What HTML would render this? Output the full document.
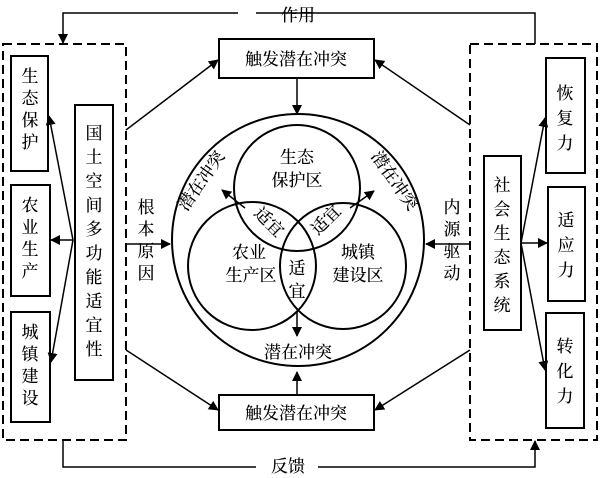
<!DOCTYPE html>
<html><head><meta charset="utf-8"><style>
html,body{margin:0;padding:0;background:#fff;width:600px;height:478px;overflow:hidden}
svg{display:block}
text{font-family:"Liberation Serif","Noto Serif CJK SC","Noto Sans CJK SC",serif;font-size:17px;fill:#000;font-weight:500}
</style></head><body>
<svg width="600" height="478" viewBox="0 0 600 478" xmlns="http://www.w3.org/2000/svg">
<defs><marker id="a" markerWidth="10" markerHeight="10" refX="9" refY="5" orient="auto" markerUnits="userSpaceOnUse"><path d="M0,0 L10,5 L0,10 z" fill="#000"/></marker></defs>
<g fill="none" stroke="#000" stroke-width="2">
<rect x="3" y="44" width="123" height="396" stroke-dasharray="9,5"/>
<rect x="470" y="44" width="127" height="396" stroke-dasharray="9,5"/>
<rect x="219" y="39" width="155" height="39"/>
<rect x="219" y="395" width="155" height="35"/>
<rect x="11" y="56" width="37" height="115"/>
<rect x="11" y="185" width="39" height="111"/>
<rect x="11" y="312" width="39" height="110"/>
<rect x="75" y="105" width="38" height="275"/>
<rect x="484" y="156" width="37" height="174"/>
<rect x="546" y="58" width="39" height="115"/>
<rect x="548" y="187" width="37" height="114"/>
<rect x="546" y="313" width="38" height="115"/>
<circle cx="298" cy="240" r="126"/>
<circle cx="297" cy="188" r="63"/>
<circle cx="252" cy="266" r="64"/>
<circle cx="343" cy="266" r="63"/>
<polyline points="256,13 535,13 535,44" stroke-width="1.5"/>
<polyline points="238,13 63,13 63,43" stroke-width="1.5" marker-end="url(#a)"/>
<polyline points="63,440 63,467 256,467" stroke-width="1.5"/>
<polyline points="318,467 535,467 535,441" stroke-width="1.5" marker-end="url(#a)"/>
<line x1="126" y1="130" x2="218" y2="60" marker-end="url(#a)" stroke-width="1.5"/>
<line x1="470" y1="125" x2="375" y2="60" marker-end="url(#a)" stroke-width="1.5"/>
<line x1="126" y1="350" x2="218" y2="410" marker-end="url(#a)" stroke-width="1.5"/>
<line x1="470" y1="350" x2="375" y2="410" marker-end="url(#a)" stroke-width="1.5"/>
<line x1="297" y1="78" x2="297" y2="114" marker-end="url(#a)" stroke-width="1.5"/>
<line x1="297" y1="395" x2="297" y2="372" marker-end="url(#a)" stroke-width="1.5"/>
<line x1="126" y1="244" x2="170" y2="244" marker-end="url(#a)" stroke-width="1.5"/>
<line x1="470" y1="244" x2="426" y2="244" marker-end="url(#a)" stroke-width="1.5"/>
<line x1="73" y1="240" x2="49" y2="116" marker-end="url(#a)" stroke-width="1.5"/>
<line x1="73" y1="240" x2="51" y2="240" marker-end="url(#a)" stroke-width="1.5"/>
<line x1="73" y1="240" x2="51" y2="362" marker-end="url(#a)" stroke-width="1.5"/>
<line x1="521" y1="243" x2="545" y2="118" marker-end="url(#a)" stroke-width="1.5"/>
<line x1="521" y1="243" x2="547" y2="243" marker-end="url(#a)" stroke-width="1.5"/>
<line x1="521" y1="243" x2="545" y2="370" marker-end="url(#a)" stroke-width="1.5"/>
<line x1="245" y1="208" x2="222" y2="190" marker-end="url(#a)" stroke-width="1.5"/>
<line x1="350" y1="208" x2="374" y2="191" marker-end="url(#a)" stroke-width="1.5"/>
<line x1="297" y1="311" x2="297" y2="336" marker-end="url(#a)" stroke-width="1.5"/>
</g>
<text x="298" y="21" text-anchor="middle">作用</text>
<text x="288" y="472" text-anchor="middle">反馈</text>
<text x="296" y="65" text-anchor="middle">触发潜在冲突</text>
<text x="296" y="419" text-anchor="middle">触发潜在冲突</text>
<g text-anchor="middle">
<text x="30" y="82">生</text><text x="30" y="104">态</text><text x="30" y="126">保</text><text x="30" y="148">护</text>
<text x="30" y="211">农</text><text x="30" y="233">业</text><text x="30" y="255">生</text><text x="30" y="277">产</text>
<text x="30" y="338">城</text><text x="30" y="360">镇</text><text x="30" y="382">建</text><text x="30" y="404">设</text>
<text x="94" y="139">国</text><text x="94" y="163">土</text><text x="94" y="187">空</text><text x="94" y="211">间</text><text x="94" y="235">多</text><text x="94" y="259">功</text><text x="94" y="283">能</text><text x="94" y="307">适</text><text x="94" y="331">宜</text><text x="94" y="355">性</text>
<text x="502" y="191">社</text><text x="502" y="215">会</text><text x="502" y="239">生</text><text x="502" y="263">态</text><text x="502" y="287">系</text><text x="502" y="311">统</text>
<text x="565" y="99">恢</text><text x="565" y="124">复</text><text x="565" y="149">力</text>
<text x="566" y="226">适</text><text x="566" y="251">应</text><text x="566" y="276">力</text>
<text x="565" y="352">转</text><text x="565" y="377">化</text><text x="565" y="402">力</text>
<text x="146" y="213">根</text><text x="146" y="235">本</text><text x="146" y="257">原</text><text x="146" y="279">因</text>
<text x="452" y="213">内</text><text x="452" y="235">源</text><text x="452" y="257">驱</text><text x="452" y="279">动</text>
<text x="297" y="163">生态</text><text x="297" y="186">保护区</text>
<text x="249" y="258">农业</text><text x="251" y="281">生产区</text>
<text x="358" y="258">城镇</text><text x="358" y="281">建设区</text>
<text x="297" y="274">适</text><text x="297" y="297">宜</text>
<text x="298" y="358">潜在冲突</text>
<text transform="translate(206,184) rotate(-55)" font-size="16">潜在冲突</text>
<text transform="translate(390,184) rotate(55)" font-size="16">潜在冲突</text>
<text transform="translate(265,226) rotate(45)" font-size="16">适宜</text>
<text transform="translate(330,224) rotate(-45)" font-size="16">适宜</text>
</g>
</svg>
</body></html>
